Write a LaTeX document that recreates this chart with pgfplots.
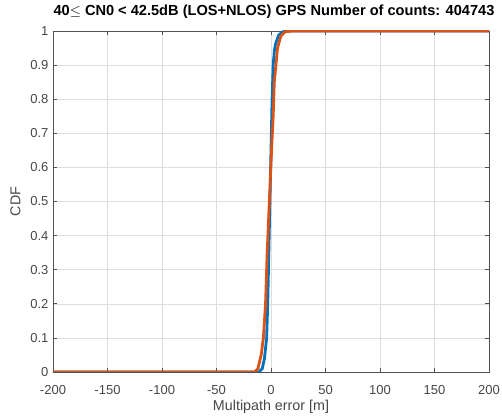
\documentclass[border=0pt]{standalone}
\usepackage{pgfplots}
\pgfplotsset{compat=1.18}
\usepackage{fontspec}
\setmainfont{Liberation Sans}
\definecolor{mblue}{rgb}{0,0.447,0.741}
\definecolor{morange}{rgb}{0.85,0.325,0.098}
\definecolor{axgray}{rgb}{0.15,0.15,0.15}
\begin{document}
\begin{tikzpicture}
\useasboundingbox (-53bp,-44bp) rectangle (449bp,372bp);
\begin{axis}[
  at={(0,0)}, anchor=south west,
  scale only axis, width=436bp, height=341bp,
  xmin=-200, xmax=200, ymin=0, ymax=1,
  xtick={-200,-150,...,200},
  ytick={0,0.1,...,1},
  yticklabels={0,0.1,0.2,0.3,0.4,0.5,0.6,0.7,0.8,0.9,1},
  tick align=inside,
  major tick length=4bp,
  grid=major,
  major grid style={line width=0.5bp, color=black!13},
  axis line style={line width=0.6bp, color=axgray!80},
  tick style={line width=0.6bp, color=axgray!80},
  ticklabel style={font=\fontsize{13bp}{15bp}\selectfont, color=axgray!85},
  xticklabel shift=10bp,
  yticklabel shift=1bp,
  /pgf/number format/assume math mode=true,
  xlabel={Multipath error [m]},
  ylabel={CDF},
  label style={font=\fontsize{14.3bp}{16bp}\selectfont, color=axgray!85},
  xlabel style={at={(0.5,0)}, anchor=north, yshift=-25bp},
  ylabel style={at={(0,0.5)}, anchor=south, yshift=29bp},
  title={\bfseries 40$\leq$ CN0 < 42.5dB (LOS+NLOS) GPS Number of counts: 404743},
  title style={font=\fontsize{14.6bp}{16bp}\selectfont, at={(0.5,1)}, anchor=south, xshift=3bp, yshift=3bp},
]
\addplot[color=mblue, line width=2.8bp] coordinates {
(-200,0) (-11,0) (-8,0.01) (-6,0.04) (-4,0.1) (-3,0.2) (-2,0.35) (-1,0.5) (0,0.65) (1,0.8) (2,0.9) (3,0.94) (4,0.96) (7,0.988) (11,0.998) (18,1) (200,1)
};
\addplot[color=morange, line width=2.8bp] coordinates {
(-200,0) (-15,0) (-12,0.01) (-9,0.05) (-7,0.1) (-5,0.2) (-3.5,0.35) (-1.5,0.5) (0.5,0.65) (2,0.75) (3,0.85) (4.5,0.9) (6,0.95) (9,0.985) (13,0.998) (20,1) (200,1)
};
\end{axis}
\end{tikzpicture}
\end{document}
